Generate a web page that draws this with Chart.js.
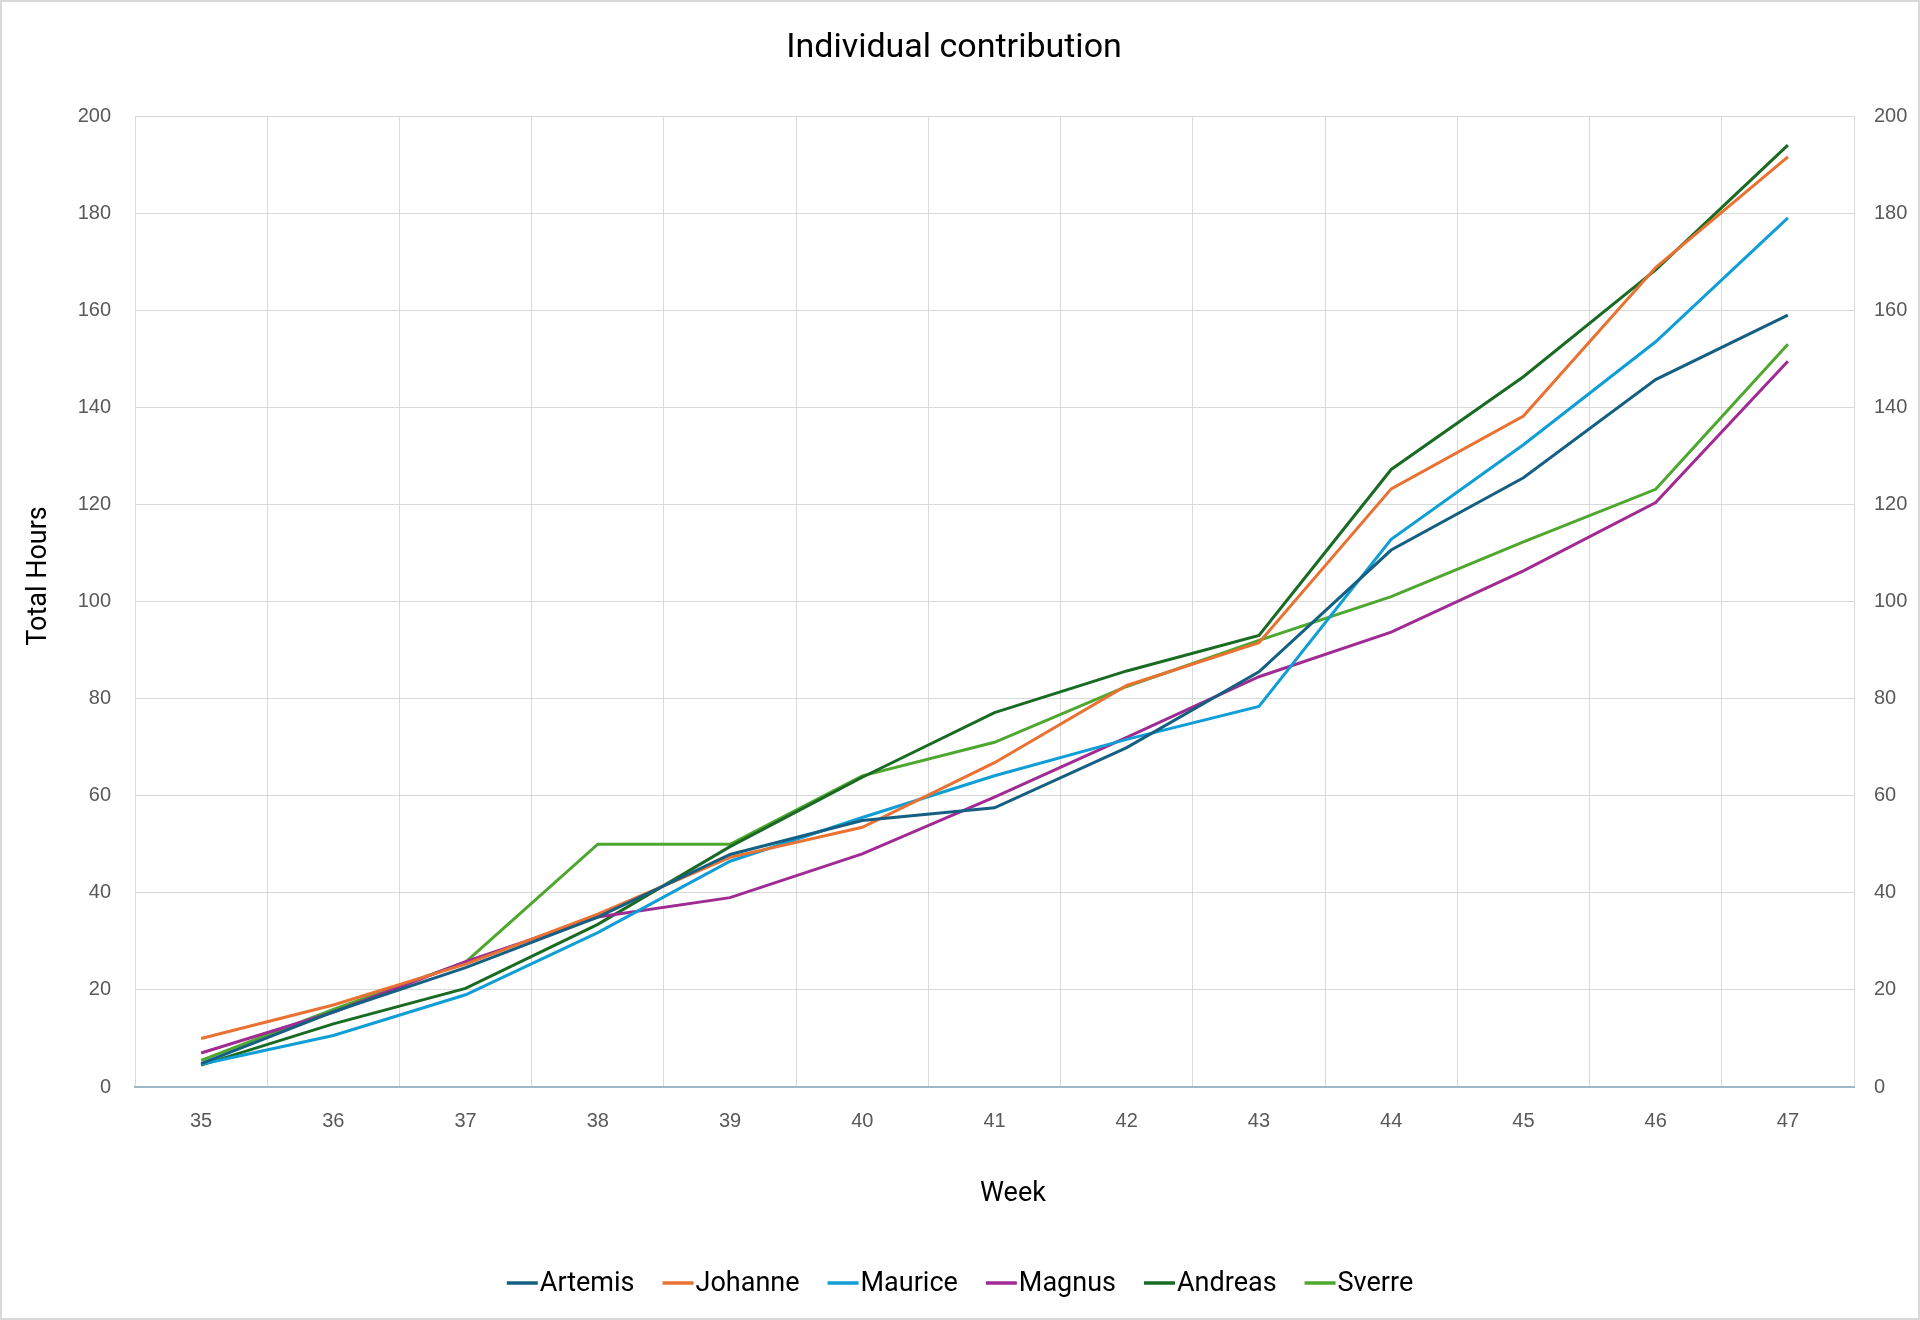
<!DOCTYPE html>
<html>
<head>
<meta charset="utf-8">
<script src="https://cdn.jsdelivr.net/npm/chart.js@4"></script>
<style>
  html, body { margin: 0; padding: 0; background: #ffffff; }
  #wrap { width: 1920px; height: 1320px; }
</style>
</head>
<body>
<div id="wrap"><canvas id="c" width="1920" height="1320"></canvas></div>
<script>
const chartTitle = "Individual contribution";
const xAxisTitle = "Week";
const yAxisTitle = "Total Hours";
const weeks = ["35","36","37","38","39","40","41","42","43","44","45","46","47"];
const yTicks = [0, 20, 40, 60, 80, 100, 120, 140, 160, 180, 200];

const artemis = [4.8, 15.5, 24.6, 35.0, 47.9, 54.9, 57.5, 69.9, 85.5, 110.6, 125.5, 145.7, 159.0];
const johanne = [10.0, 16.9, 25.3, 35.6, 47.3, 53.5, 66.8, 82.7, 91.5, 123.2, 138.2, 168.8, 191.6];
const maurice = [4.7, 10.6, 19.0, 31.8, 46.5, 55.5, 64.1, 71.6, 78.4, 112.8, 132.3, 153.5, 179.0];
const magnus  = [7.0, 15.4, 25.8, 35.0, 39.0, 48.0, 59.7, 72.0, 84.5, 93.7, 106.3, 120.4, 149.5];
const andreas = [4.5, 13.0, 20.3, 33.5, 49.5, 63.8, 77.1, 85.7, 93.0, 127.2, 146.3, 168.3, 194.0];
const sverre  = [5.5, 16.0, 25.7, 50.0, 50.0, 64.1, 71.0, 82.5, 92.0, 101.0, 112.3, 123.1, 153.0];

const seriesNames = ["Artemis", "Johanne", "Maurice", "Magnus", "Andreas", "Sverre"];
const seriesData = [artemis, johanne, maurice, magnus, andreas, sverre];
const seriesColors = ["#156082", "#E97132", "#0F9ED5", "#A02B93", "#196B24", "#4EA72E"];

const TEXT_FONT = "Roboto, 'Open Sans', sans-serif";
const TICK_FONT = "'Liberation Sans', Arial, sans-serif";

const decorPlugin = {
  id: 'decor',
  beforeDraw(chart) {
    const ctx = chart.ctx;
    ctx.save();
    ctx.fillStyle = '#ffffff';
    ctx.fillRect(0, 0, chart.width, chart.height);
    ctx.strokeStyle = '#D9D9D9';
    ctx.lineWidth = 2;
    ctx.strokeRect(1, 1, chart.width - 2, chart.height - 2);
    ctx.restore();
  },
  afterDraw(chart) {
    const ctx = chart.ctx;
    ctx.save();
    ctx.fillStyle = '#000000';
    ctx.textAlign = 'center';
    ctx.textBaseline = 'middle';
    // title
    ctx.font = "34px " + TEXT_FONT;
    ctx.fillText(chartTitle, 954, 48);
    // x axis title
    ctx.font = "27px " + TEXT_FONT;
    ctx.fillText(xAxisTitle, 1013, 1194);
    // y axis title
    ctx.save();
    ctx.translate(39, 576);
    ctx.rotate(-Math.PI / 2);
    ctx.fillText(yAxisTitle, 0, 0);
    ctx.restore();
    // legend
    ctx.font = "27px " + TEXT_FONT;
    const lineW = 31, gap = 2, itemGap = 28;
    const items = chart.data.datasets.map(ds => ({
      label: ds.label, color: ds.borderColor,
      w: lineW + gap + ctx.measureText(ds.label).width
    }));
    const total = items.reduce((s, it) => s + it.w, 0) + itemGap * (items.length - 1);
    let x = 960 - total / 2;
    const y = 1283;
    ctx.textAlign = 'left';
    items.forEach(it => {
      ctx.strokeStyle = it.color;
      ctx.lineWidth = 3.5;
      ctx.beginPath();
      ctx.moveTo(x, y);
      ctx.lineTo(x + lineW, y);
      ctx.stroke();
      ctx.fillStyle = '#000000';
      ctx.fillText(it.label, x + lineW + gap, y + 1);
      x += it.w + itemGap;
    });
    ctx.restore();
  }
};

new Chart(document.getElementById('c'), {
  type: 'line',
  data: {
    labels: weeks,
    datasets: seriesNames.map((name, i) => ({
      label: name,
      data: seriesData[i],
      borderColor: seriesColors[i],
      backgroundColor: seriesColors[i],
      borderWidth: 3,
      pointRadius: 0,
      tension: 0,
      fill: false
    }))
  },
  options: {
    responsive: false,
    devicePixelRatio: 1,
    animation: false,
    layout: { padding: { top: 116, bottom: 0, left: 0, right: 0 } },
    plugins: {
      legend: { display: false },
      title: { display: false },
      tooltip: { enabled: false }
    },
    scales: {
      x: {
        type: 'category',
        offset: true,
        afterFit(scale) { scale.height = 233; },
        grid: { display: true, offset: true, color: '#D9D9D9', lineWidth: 1, drawTicks: false },
        border: { display: true, color: '#9FB8C8', width: 2 },
        ticks: { color: '#595959', font: { family: TICK_FONT, size: 20 }, padding: 22, maxRotation: 0, autoSkip: false }
      },
      y: {
        position: 'left',
        min: 0, max: 200,
        afterFit(scale) { scale.width = 135; },
        afterBuildTicks(scale) { scale.ticks = yTicks.map(v => ({ value: v })); },
        grid: { color: '#D9D9D9', lineWidth: 1, drawTicks: false },
        border: { display: false },
        ticks: { color: '#595959', font: { family: TICK_FONT, size: 20 }, padding: 24 }
      },
      y1: {
        position: 'right',
        min: 0, max: 200,
        afterFit(scale) { scale.width = 66; },
        afterBuildTicks(scale) { scale.ticks = yTicks.map(v => ({ value: v })); },
        grid: { display: false, drawTicks: false },
        border: { display: false },
        ticks: { color: '#595959', font: { family: TICK_FONT, size: 20 }, padding: 20 }
      }
    }
  },
  plugins: [decorPlugin]
});
</script>
</body>
</html>
